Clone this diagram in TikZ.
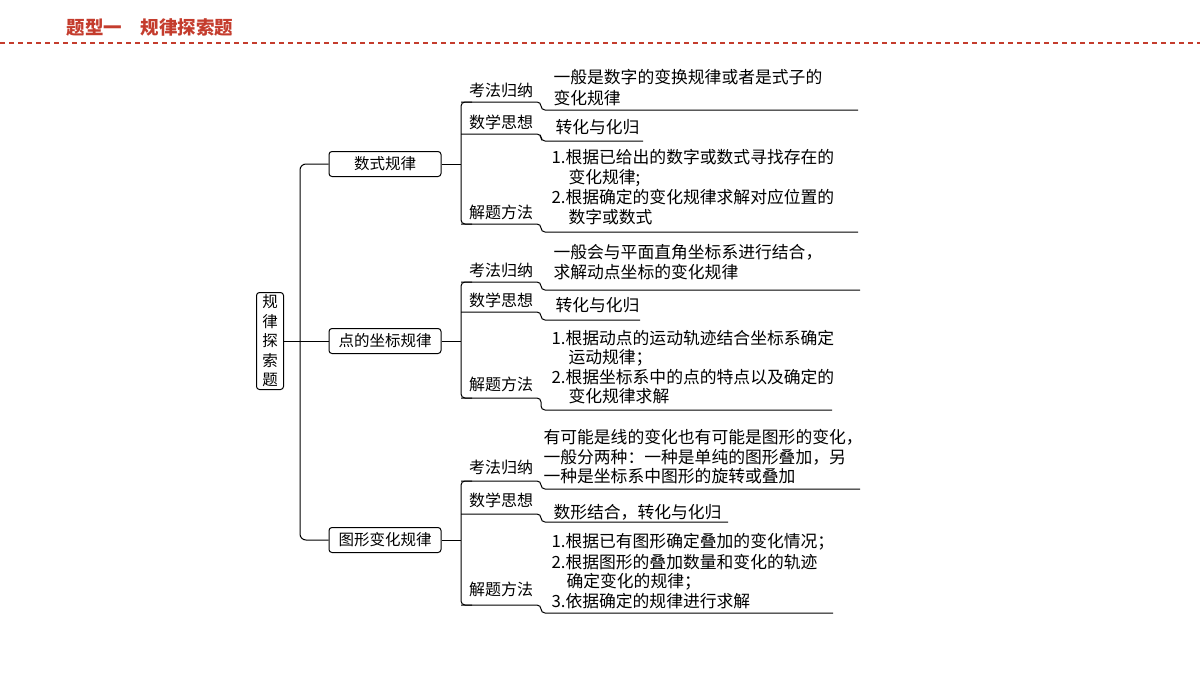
\documentclass[tikz,border=0pt]{standalone}
\usepackage{fontspec}
\setmainfont{Noto Sans CJK SC}
\begin{document}
\begin{tikzpicture}[x=1pt,y=-1pt,line width=1pt,
  cat/.style={draw,rounded corners=3pt,minimum width=112pt,minimum height=25pt,inner sep=0pt,font=\fontsize{15.5}{15}\selectfont},
  lab/.style={anchor=base,inner sep=0pt,font=\fontsize{16}{15}\selectfont},
  txt/.style={anchor=base west,inner sep=0pt,font=\fontsize{16.8}{15}\selectfont},
  br/.style={rounded corners=4pt}]
\useasboundingbox (0,0) rectangle (1200,675);
\definecolor{hred}{RGB}{196,60,45}
\node[anchor=base west,inner sep=0pt,text=hred,font=\fontsize{18.5}{18}\selectfont\bfseries] (hdr) at (66,34) {题型一\hspace{1em}规律探索题};
\draw[hred,dashed,line width=1.2pt,dash pattern=on 5pt off 4pt] (0,43) -- (1200,43);
% root
\node[draw,rounded corners=3pt,minimum width=27pt,minimum height=97pt,inner sep=0pt,align=center,font=\fontsize{15.5}{19.5}\selectfont] (root) at (270,341) {规\\律\\探\\索\\题};
\node[cat] (c1) at (385,164) {数式规律};
\node[cat] (c2) at (385,341) {点的坐标规律};
\node[cat] (c3) at (385,540) {图形变化规律};
\draw (root.east) -- (c2.west);
\draw[rounded corners=6pt] (c1.west) -- (300,164) -- (300,540) -- (c3.west);
\foreach \c/\t/\b/\y/\ta/\tb/\ma/\mb/\ba/\bb/\me/\te/\be in {%
 c1/102/224/164/102/110/134/141/224/232/643/858/858,%
 c2/282/398/341/282/290/312/320/398/410/640/860/832,%
 c3/481/605/540/481/489/514/522/605/613/728/860/833}{
 \draw (\c.east) -- (461,\y);
 \draw[br] (472,\t) -- (461,\t) -- (461,\b) -- (472,\b);
 \draw[br] (461,\ta) -- (541,\ta) -- (541,\tb) -- (\te,\tb);
 \draw[br] (461,\ma) -- (541,\ma) -- (541,\mb) -- (\me,\mb);
 \draw[br] (461,\ba) -- (541,\ba) -- (541,\bb) -- (\be,\bb);
}
\foreach \n/\y in {a1/96,a2/276,a3/473}{\node[lab] (\n) at (501,\y) {考法归纳};}
\foreach \n/\y in {m1/128,m2/306,m3/506}{\node[lab] (\n) at (501,\y) {数学思想};}
\foreach \n/\y in {s1/218,s2/390,s3/595}{\node[lab] (\n) at (501,\y) {解题方法};}
% group 1
\node[txt] (t11) at (553,83) {一般是数字的变换规律或者是式子的};
\node[txt] (t12) at (553,104) {变化规律};
\node[txt] (t13) at (555,133) {转化与化归};
\node[txt] (t14) at (551,163) {1.根据已给出的数字或数式寻找存在的};
\node[txt] (t15) at (568,183) {变化规律;};
\node[txt] (t16) at (551,203) {2.根据确定的变化规律求解对应位置的};
\node[txt] (t17) at (568,223) {数字或数式};
% group 2
\node[txt] (t21) at (553,258) {一般会与平面直角坐标系进行结合，};
\node[txt] (t22) at (553,278) {求解动点坐标的变化规律};
\node[txt] (t23) at (555,311) {转化与化归};
\node[txt] (t24) at (551,344) {1.根据动点的运动轨迹结合坐标系确定};
\node[txt] (t25) at (568,363) {运动规律；};
\node[txt] (t26) at (551,383) {2.根据坐标系中的点的特点以及确定的};
\node[txt] (t27) at (568,402) {变化规律求解};
% group 3
\node[txt] (t31) at (543,443) {有可能是线的变化也有可能是图形的变化，};
\node[txt] (t32) at (543,463) {一般分两种：一种是单纯的图形叠加，另};
\node[txt] (t33) at (543,482) {一种是坐标系中图形的旋转或叠加};
\node[txt] (t34) at (553,518) {数形结合，转化与化归};
\node[txt] (t35) at (551,547) {1.根据已有图形确定叠加的变化情况；};
\node[txt] (t36) at (551,568) {2.根据图形的叠加数量和变化的轨迹};
\node[txt] (t37) at (566,587) {确定变化的规律；};
\node[txt] (t38) at (551,607) {3.依据确定的规律进行求解};
\end{tikzpicture}
\end{document}
